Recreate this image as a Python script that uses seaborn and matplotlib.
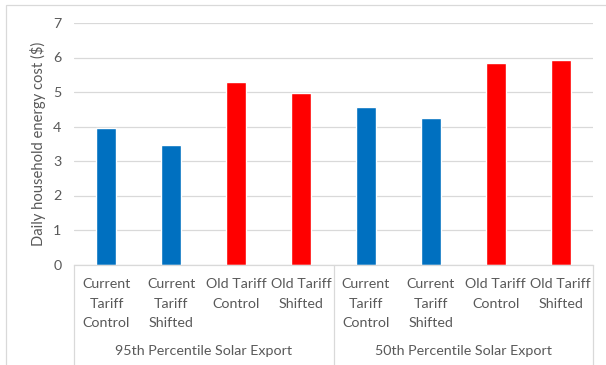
import matplotlib
matplotlib.use("Agg")
import matplotlib.pyplot as plt
from matplotlib.patches import Rectangle
import seaborn as sns
import pandas as pd

# Daily household energy cost per scenario
groups = ["95th Percentile Solar Export", "50th Percentile Solar Export"]
scenarios = ["Current\nTariff\nControl", "Current\nTariff\nShifted",
             "Old Tariff\nControl", "Old Tariff\nShifted"]
tariffs = ["Current", "Current", "Old", "Old"]
cost_95th = [3.97, 3.47, 5.29, 4.98]
cost_50th = [4.56, 4.25, 5.85, 5.94]

rows = []
for g, vals in zip(groups, [cost_95th, cost_50th]):
    for s, t, v in zip(scenarios, tariffs, vals):
        rows.append({"slot": f"{g}|{s}", "label": s, "group": g,
                     "tariff": t, "cost": v})
df = pd.DataFrame(rows)

sns.set_theme(style="white")
plt.rcParams["font.family"] = ["Lato", "DejaVu Sans"]
text_color = "#595959"
line_color = "#D9D9D9"

fig = plt.figure(figsize=(6.06, 3.65), dpi=100)
ax = fig.add_axes([74 / 606, 1 - 264.5 / 365, (593 - 74) / 606, (264.5 - 23) / 365])

sns.barplot(data=df, x="slot", y="cost", hue="tariff", dodge=False,
            palette={"Current": "#0070C0", "Old": "#FF0000"},
            width=0.31, ax=ax, legend=False, saturation=1)

ax.set_ylim(0, 7)
ax.set_yticks(range(0, 8))
ax.yaxis.grid(True, color=line_color, linewidth=0.9)
ax.set_axisbelow(True)
for side in ["left", "right", "top"]:
    ax.spines[side].set_visible(False)
ax.spines["bottom"].set_color(line_color)
ax.spines["bottom"].set_linewidth(0.9)
ax.set_xlim(-0.5, len(df) - 0.5)

ax.tick_params(axis="both", length=0, colors=text_color, labelsize=10.3)
ax.tick_params(axis="y", pad=9)
ax.tick_params(axis="x", pad=10)
ax.set_xticks(range(len(df)))
ax.set_xticklabels(df["label"], linespacing=1.75, va="top")
ax.set_xlabel("")
ax.set_ylabel("Daily household energy cost ($)", color=text_color, fontsize=10.6,
              labelpad=5)

# Group boxes under the category labels
trans = ax.get_xaxis_transform()
n = len(scenarios)
for k in range(len(groups) + 1):
    xpos = k * n - 0.5
    ax.plot([xpos, xpos], [0, -0.5], transform=trans, color=line_color,
            linewidth=0.9, clip_on=False)
for k, g in enumerate(groups):
    ax.text(k * n + (n - 1) / 2, -0.36, g, transform=trans, ha="center",
            va="center", color=text_color, fontsize=10.3)

# Chart border
fig.patches.append(Rectangle((6 / 606, -0.1), 1.2, 1 - 5 / 365 + 0.1,
                             transform=fig.transFigure, fill=False,
                             edgecolor=line_color, linewidth=0.9))

fig.savefig("out.png", dpi=100)
